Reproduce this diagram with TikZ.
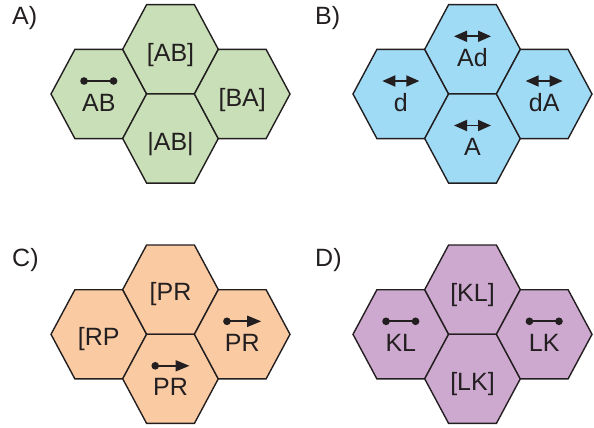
\documentclass[tikz,border=0pt]{standalone}
\usepackage{fontspec}
\setmainfont{Liberation Sans}
\usetikzlibrary{arrows.meta}
\definecolor{hexink}{RGB}{35,31,32}
\definecolor{hexgreen}{RGB}{200,223,183}
\definecolor{hexblue}{RGB}{160,219,246}
\definecolor{hexorange}{RGB}{250,203,163}
\definecolor{hexpurple}{RGB}{205,169,207}

\begin{document}
\begin{tikzpicture}[x=1pt, y=-1pt,
cell/.style={draw=hexink, line width=1.4pt, fill=#1},
pics/hexcell/.style={code={
\path[cell=#1] (-47.8,0) -- (-23.9,-44.6) -- (23.9,-44.6) -- (47.8,0)
-- (23.9,44.6) -- (-23.9,44.6) -- cycle;}},
word/.style={anchor=base, inner sep=0pt, text=hexink, font=\fontsize{25}{30}\selectfont},
panel/.style={anchor=base west, inner sep=0pt, text=hexink, font=\fontsize{25}{30}\selectfont},
seg/.style={draw=hexink, line width=1.8pt, {Circle[length=7.5pt]}-{Circle[length=7.5pt]}},
dbl/.style={draw=hexink, line width=1.8pt, {Triangle[length=13pt,width=11pt]}-{Triangle[length=13pt,width=11pt]}},
ray/.style={draw=hexink, line width=1.8pt, {Circle[length=7.5pt]}-{Triangle[length=14pt,width=11pt]}}
]
\useasboundingbox (0,0) rectangle (594,428);

% A) segments
\pic at (98.8,94)    {hexcell=hexgreen};
\pic at (170.5,49.3) {hexcell=hexgreen};
\pic at (170.5,138.5) {hexcell=hexgreen};
\pic at (242.2,94)   {hexcell=hexgreen};
\node[panel] (pa) at (12,25) {A)};
\node[word] (a1) at (98.8,111)   {AB};
\node[word] (a2) at (170.5,61.3) {[AB]};
\node[word] (a3) at (170.5,150.5) {|AB|};
\node[word] (a4) at (242.2,106)  {[BA]};
\draw[seg] ([xshift=-18.5pt,yshift=30pt]a1.base) -- ([xshift=18.5pt,yshift=30pt]a1.base);

% B) lines
\pic at (400.8,94)   {hexcell=hexblue};
\pic at (472.5,49.3) {hexcell=hexblue};
\pic at (472.5,138.5) {hexcell=hexblue};
\pic at (544.2,94)   {hexcell=hexblue};
\node[panel] (pb) at (315,25) {B)};
\node[word] (b1) at (400.8,111)   {d};
\node[word] (b2) at (472.5,66.3)  {Ad};
\node[word] (b3) at (472.5,155.5) {A};
\node[word] (b4) at (544.2,111)   {dA};
\draw[dbl] ([xshift=-18.5pt,yshift=30pt]b1.base) -- ([xshift=18.5pt,yshift=30pt]b1.base);
\draw[dbl] ([xshift=-18.5pt,yshift=30pt]b2.base) -- ([xshift=18.5pt,yshift=30pt]b2.base);
\draw[dbl] ([xshift=-18.5pt,yshift=30pt]b3.base) -- ([xshift=18.5pt,yshift=30pt]b3.base);
\draw[dbl] ([xshift=-18.5pt,yshift=30pt]b4.base) -- ([xshift=18.5pt,yshift=30pt]b4.base);

% C) rays
\pic at (98.8,334.3)  {hexcell=hexorange};
\pic at (170.5,289.6) {hexcell=hexorange};
\pic at (170.5,378.8) {hexcell=hexorange};
\pic at (242.2,334.3) {hexcell=hexorange};
\node[panel] (pc) at (12,266) {C)};
\node[word] (c1) at (98.8,345)    {[RP};
\node[word] (c2) at (170.5,300.6) {[PR};
\node[word] (c3) at (170.5,395.8) {PR};
\node[word] (c4) at (242.2,351.3) {PR};
\draw[ray] ([xshift=-19pt,yshift=30pt]c3.base) -- ([xshift=19pt,yshift=30pt]c3.base);
\draw[ray] ([xshift=-19pt,yshift=30pt]c4.base) -- ([xshift=19pt,yshift=30pt]c4.base);

% D) segments
\pic at (400.8,334.3) {hexcell=hexpurple};
\pic at (472.5,289.6) {hexcell=hexpurple};
\pic at (472.5,378.8) {hexcell=hexpurple};
\pic at (544.2,334.3) {hexcell=hexpurple};
\node[panel] (pd) at (315,266) {D)};
\node[word] (d1) at (400.8,351.3) {KL};
\node[word] (d2) at (472.5,301.6) {[KL]};
\node[word] (d3) at (472.5,390.8) {[LK]};
\node[word] (d4) at (544.2,351.3) {LK};
\draw[seg] ([xshift=-18.5pt,yshift=30pt]d1.base) -- ([xshift=18.5pt,yshift=30pt]d1.base);
\draw[seg] ([xshift=-18.5pt,yshift=30pt]d4.base) -- ([xshift=18.5pt,yshift=30pt]d4.base);

\end{tikzpicture}
\end{document}
